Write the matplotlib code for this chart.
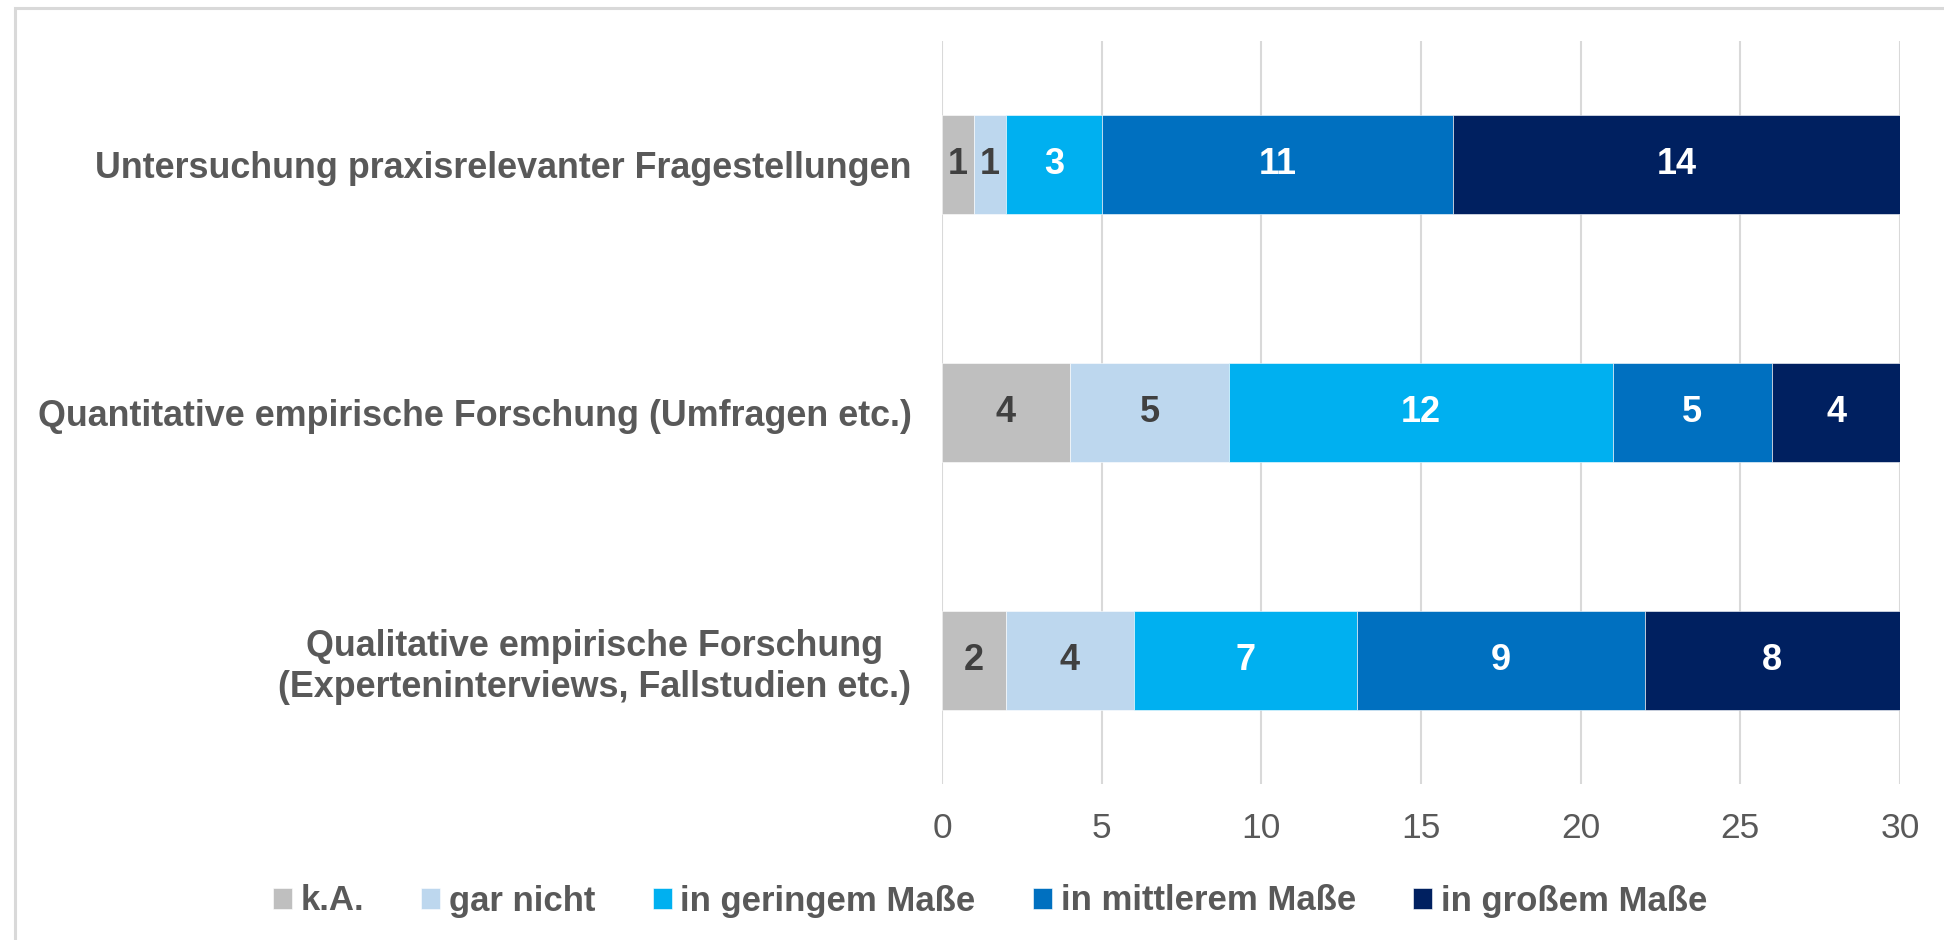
import numpy as np
import matplotlib
matplotlib.use("Agg")
import matplotlib.pyplot as plt
from matplotlib import font_manager
from matplotlib.patches import Rectangle

# data, top to bottom as in the chart
categories = [
    "Untersuchung praxisrelevanter Fragestellungen",
    "Quantitative empirische Forschung (Umfragen etc.)",
    "Qualitative empirische Forschung\n(Experteninterviews, Fallstudien etc.)",
]
series_names = ["k.A.", "gar nicht", "in geringem Maße", "in mittlerem Maße", "in großem Maße"]
ka = [1, 4, 2]
gar_nicht = [1, 5, 4]
gering = [3, 12, 7]
mittel = [11, 5, 9]
gross = [14, 4, 8]
x_ticks = [0, 5, 10, 15, 20, 25, 30]

colors = ["#BFBFBF", "#BDD7EE", "#00B0F0", "#0070C0", "#002060"]
label_colors = ["#404040", "#404040", "white", "white", "white"]
text_gray = "#595959"

names = {f.name for f in font_manager.fontManager.ttflist}
family = "Liberation Sans Narrow" if "Liberation Sans Narrow" in names else "Liberation Sans"
plt.rcParams["font.family"] = [family, "DejaVu Sans"]

fig = plt.figure(figsize=(19.44, 9.40), dpi=100)
W, H = 1944, 940
ax = fig.add_axes([942 / W, 1 - 784 / H, (1900 - 942) / W, (784 - 41) / H])

# outer frame (only top and left visible in the picture)
fig.patches.append(Rectangle((15 / W, -0.2), 2, 1.2 - 8 / H, transform=fig.transFigure,
                             fill=False, edgecolor="#D9D9D9", linewidth=2.2))

y = np.arange(len(categories))
left = np.zeros(len(categories))
all_series = [ka, gar_nicht, gering, mittel, gross]
for name, vals, col, lc in zip(series_names, all_series, colors, label_colors):
    vals = np.array(vals, dtype=float)
    bars = ax.barh(y, vals, left=left, height=0.4, color=col, label=name,
                   edgecolor="white", linewidth=0.4, zorder=3)
    ax.bar_label(bars, labels=[f"{int(v)}" for v in vals], label_type="center",
                 color=lc, fontsize=26, fontweight="bold")
    left += vals

ax.set_xlim(0, 30)
ax.set_ylim(2.5, -0.5)
ax.set_xticks(x_ticks)
ax.set_yticks(y)
ax.set_yticklabels(categories, fontsize=25.8, fontweight="bold", color=text_gray,
                   multialignment="center")
ax.tick_params(axis="x", length=0, pad=20, labelsize=25.5, labelcolor=text_gray)
ax.tick_params(axis="y", length=0, pad=22)
ax.grid(axis="x", color="#D9D9D9", linewidth=1.5, zorder=0)
for s in ax.spines.values():
    s.set_visible(False)

fig.legend(loc="center", bbox_to_anchor=(990 / W, 1 - 901 / H), ncol=5, frameon=False,
           prop={"size": 25, "weight": "bold"}, labelcolor=text_gray,
           handlelength=0.55, handleheight=0.55, handletextpad=0.25, columnspacing=1.65)

fig.savefig("out.png", dpi=100, facecolor="white")
